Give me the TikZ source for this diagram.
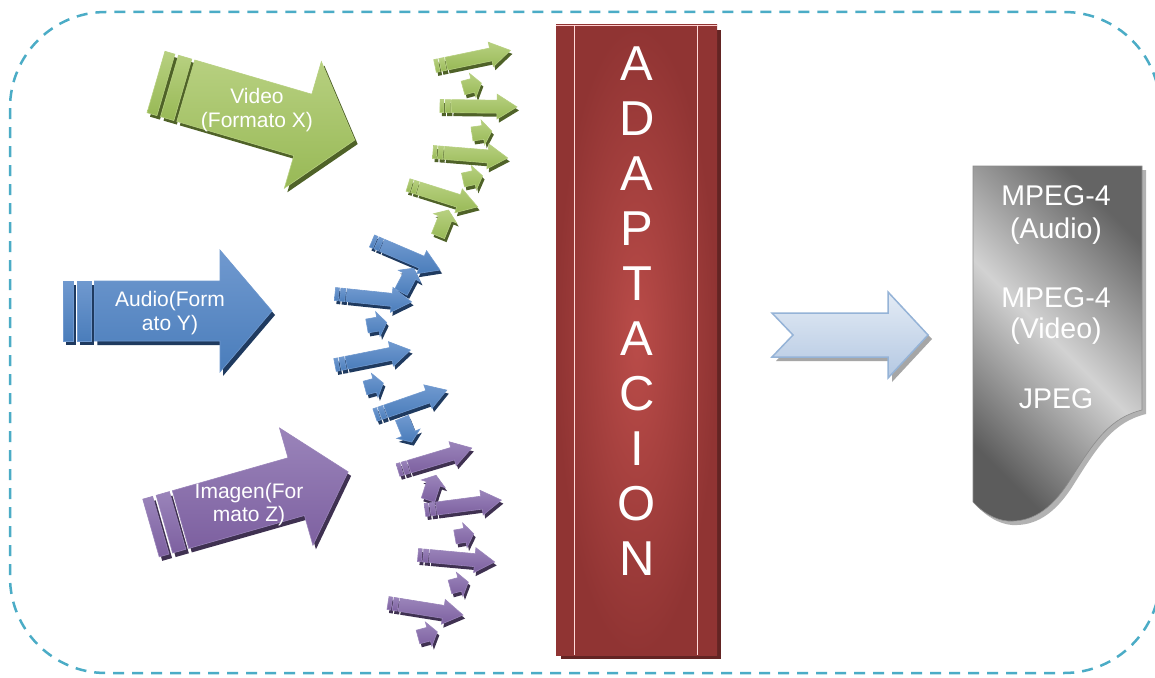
\documentclass[tikz,border=0pt]{standalone}
\usepackage{fontspec}
\setmainfont{Liberation Sans}
\definecolor{frm}{HTML}{4BACC6}
\definecolor{cg}{HTML}{98B956}\definecolor{cglt}{HTML}{B7D080}\definecolor{cgdk}{HTML}{4F6228}
\definecolor{cb}{HTML}{4A7DBB}\definecolor{cblt}{HTML}{7099CF}\definecolor{cbdk}{HTML}{1F3A5F}
\definecolor{cp}{HTML}{7D60A0}\definecolor{cplt}{HTML}{9A84BA}\definecolor{cpdk}{HTML}{3F3151}
\definecolor{redin}{RGB}{186,76,73}\definecolor{redout}{RGB}{144,52,51}\definecolor{reddk}{RGB}{99,36,35}
\definecolor{lbin}{HTML}{E3EBF5}\definecolor{lbout}{HTML}{B4C8E2}\definecolor{lbdr}{HTML}{95B3D7}
\definecolor{docdk}{RGB}{92,92,92}\definecolor{doclt}{RGB}{210,210,210}\definecolor{docdk2}{RGB}{100,100,100}
\newcommand{\StPath}[5]{({#5*#1},{-#2}) -- ({#1-#4},{-#2}) -- ({#1-#4},{-#3}) -- (#1,0) -- ({#1-#4},{#3}) -- ({#1-#4},{#2}) -- ({#5*#1},{#2}) -- cycle}
\newcommand{\StArrow}[9]{%
  \ifnum#9>0 \def\StB{0.15}\else\def\StB{0}\fi
  \begin{scope}[shift={({#1+\ShX},{#2+\ShY})},rotate={-(#3)}]
    \fill[#8dk] \StPath{#4}{#5}{#6}{#7}{\StB};
    \ifnum#9>0
      \fill[#8dk] (0,{-#5}) rectangle ({0.05*#4},{#5});
      \fill[#8dk] ({0.068*#4},{-#5}) rectangle ({0.135*#4},{#5});
    \fi
  \end{scope}
  \begin{scope}[shift={(#1,#2)},rotate={-(#3)}]
    \shade[top color=#8lt,bottom color=#8,draw=#8lt,line width=0.6] \StPath{#4}{#5}{#6}{#7}{\StB};
    \ifnum#9>0
      \shade[top color=#8lt,bottom color=#8,draw=#8lt,line width=0.6] (0,{-#5}) rectangle ({0.05*#4},{#5});
      \shade[top color=#8lt,bottom color=#8,draw=#8lt,line width=0.6] ({0.068*#4},{-#5}) rectangle ({0.135*#4},{#5});
    \fi
  \end{scope}}
\tikzset{
  lbl/.style={text=white,anchor=base,inner sep=0pt,font=\fontsize{21}{24}\selectfont},
  doclbl/.style={text=white,anchor=base,inner sep=0pt,font=\fontsize{28.5}{32}\selectfont},
  adp/.style={text=white,anchor=base,inner sep=0pt,font=\fontsize{49}{55}\selectfont},
  frame/.style={draw=frm,line width=2.5pt,dash pattern=on 11pt off 8pt,rounded corners=96pt}
}
\begin{document}
\begin{tikzpicture}[x=1pt,y=-1pt]
\useasboundingbox (0,0) rectangle (1155,677);
\fill[white] (0,0) rectangle (1155,677);
\begin{scope}
  \clip (0,0) rectangle (1155,677);
  \draw[frame] (10,12) rectangle (1160,673);
\end{scope}

% big arrows
\def\ShX{3}\def\ShY{4}
\StArrow{156}{82}{16.3}{207}{32}{66}{54}{cg}{1}
\StArrow{63}{311}{0}{209}{30}{61}{52}{cb}{1}
\StArrow{151}{528}{-15.9}{205}{30}{61}{54}{cp}{1}

\node[lbl] (vid1) at (257,103) {Video};
\node[lbl] (vid2) at (257,127) {(Formato X)};
\node[lbl] (aud1) at (170,306) {Audio(Form};
\node[lbl] (aud2) at (170,330) {ato Y)};
\node[lbl] (img1) at (249,498) {Imagen(For};
\node[lbl] (img2) at (249,521) {mato Z)};

% small arrows
\def\ShX{2}\def\ShY{3.5}
\StArrow{435}{66}{-11.7}{77}{6.5}{12.5}{20}{cg}{1}
\StArrow{463}{88}{-15}{19}{7}{12.5}{9}{cg}{0}
\StArrow{440}{106}{0.7}{77}{6.5}{12.5}{20}{cg}{1}
\StArrow{472}{134}{-8}{20}{7}{12.5}{9}{cg}{0}
\StArrow{433}{152}{4.6}{75}{6.5}{12.5}{20}{cg}{1}
\StArrow{463}{180}{-12}{20}{7}{12.5}{9}{cg}{0}
\StArrow{408}{185}{17.4}{73}{6.5}{12.5}{20}{cg}{1}
\StArrow{438}{236}{-68}{28}{7}{12.5}{9}{cg}{0}

\StArrow{372}{241}{23.1}{74}{6.5}{12.5}{20}{cb}{1}
\StArrow{401}{292}{-62}{27}{7}{12.5}{9}{cb}{0}
\StArrow{335}{294}{5.9}{77}{6.5}{12.5}{20}{cb}{1}
\StArrow{367}{326}{-10}{20}{7}{12.5}{9}{cb}{0}
\StArrow{335}{365}{-11.2}{77}{6.5}{12.5}{20}{cb}{1}
\StArrow{365}{388}{-15}{19}{7}{12.5}{9}{cb}{0}
\StArrow{375}{415}{-19.1}{76}{6.5}{12.5}{20}{cb}{1}
\StArrow{402}{418}{68}{26}{7}{12.5}{9}{cb}{0}

\StArrow{398}{470}{-16.6}{77}{6.5}{12.5}{20}{cp}{1}
\StArrow{428}{500}{-72}{26}{7}{12.5}{9}{cp}{0}
\StArrow{425}{510}{-7.4}{77}{6.5}{12.5}{20}{cp}{1}
\StArrow{455}{537}{-10}{19}{7}{12.5}{9}{cp}{0}
\StArrow{418}{555}{5.2}{77}{6.5}{12.5}{20}{cp}{1}
\StArrow{450}{587}{-15}{19}{7}{12.5}{9}{cp}{0}
\StArrow{388}{603}{9.1}{76}{6.5}{12.5}{20}{cp}{1}
\StArrow{418}{637}{-15}{20}{7}{12.5}{9}{cp}{0}

% adaptation bar
\fill[reddk] (561,30) rectangle (721,659);
\shade[inner color=redin,outer color=redout] (556,25) rectangle (717,655);
\draw[white!80!red,line width=0.6] (556,25) -- (717,25);
\draw[white!85!red,line width=0.9] (574,25) -- (574,655);
\draw[white!85!red,line width=0.9] (697,25) -- (697,655);
\foreach \L [count=\i from 0] in {A,D,A,P,T,A,C,I,O,N}
  \node[adp] (ad\i) at (637,{80+55*\i}) {\L};

% light blue arrow
\fill[black!35] (776,317) -- (892,317) -- (892,296) -- (932,339) -- (892,382) -- (892,361) -- (776,361) -- (797,339) -- cycle;
\shade[top color=lbin,bottom color=lbout,draw=lbdr,line width=1.5pt,line join=miter]
  (772,313) -- (888,313) -- (888,292) -- (928,335) -- (888,378) -- (888,357) -- (772,357) -- (793,335) -- cycle;

% document
\fill[black!30] (977,170) -- (1146,170) -- (1146,414) .. controls (1114,422) and (1099,444) .. (1074,484) .. controls (1054,516) and (1034,526) .. (1012,525) .. controls (999,524) and (986,516) .. (977,506) -- cycle;
\shade[left color=docdk,right color=docdk2,middle color=doclt,shading angle=135,draw=black!45,line width=0.6]
  (973,166) -- (1142,166) -- (1142,410) .. controls (1110,418) and (1095,440) .. (1070,480) .. controls (1050,512) and (1030,522) .. (1008,521) .. controls (995,520) and (982,512) .. (973,502) -- cycle;
\node[doclbl] (d1) at (1056,205) {MPEG-4};
\node[doclbl] (d2) at (1056,238) {(Audio)};
\node[doclbl] (d3) at (1056,307) {MPEG-4};
\node[doclbl] (d4) at (1056,338) {(Video)};
\node[doclbl] (d5) at (1056,408) {JPEG};
\end{tikzpicture}
\end{document}
